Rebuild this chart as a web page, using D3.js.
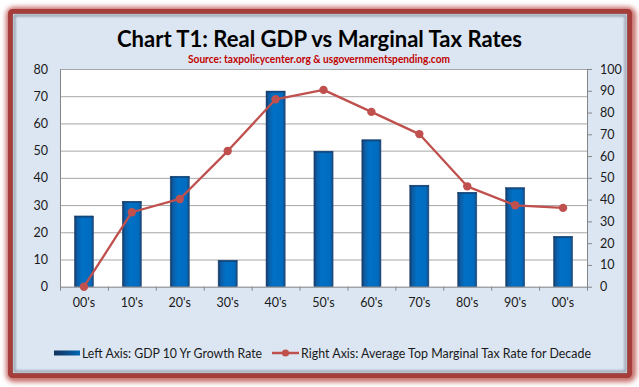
<!DOCTYPE html>
<html>
<head>
<meta charset="utf-8">
<script src="https://cdn.jsdelivr.net/npm/d3@7/dist/d3.min.js"></script>
<style>
  html, body { margin: 0; padding: 0; background: #ffffff; }
  svg { display: block; }
  text { font-family: Lato, "Open Sans", "DejaVu Sans", sans-serif; }
</style>
</head>
<body>
<svg id="chart" width="639" height="387"></svg>
<script>
// ---- Data ----
const categories = ["00's", "10's", "20's", "30's", "40's", "50's", "60's", "70's", "80's", "90's", "00's"];
const gdpGrowth = [26.0, 31.4, 40.6, 9.7, 71.9, 49.8, 54.0, 37.3, 34.7, 36.4, 18.5];
const topTaxRate = [0, 34.2, 40.3, 62.3, 86.1, 90.4, 80.3, 70.1, 46.1, 37.4, 36.2];
const leftTicks = [0, 10, 20, 30, 40, 50, 60, 70, 80];
const rightTicks = [0, 10, 20, 30, 40, 50, 60, 70, 80, 90, 100];
const titleText = "Chart T1: Real GDP vs Marginal Tax Rates";
const subtitleText = "Source: taxpolicycenter.org & usgovernmentspending.com";
const legendBarLabel = "Left Axis: GDP 10 Yr Growth Rate";
const legendLineLabel = "Right Axis: Average Top Marginal Tax Rate for Decade";

// ---- Layout ----
const svg = d3.select("#chart");
const plot = { left: 60, right: 587, top: 69, bottom: 286.7 };

const defs = svg.append("defs");
const glow = defs.append("filter").attr("id", "glow").attr("x", "-10%").attr("y", "-10%").attr("width", "120%").attr("height", "120%");
glow.append("feGaussianBlur").attr("stdDeviation", 2.5);
const inner = defs.append("filter").attr("id", "innerBlur");
inner.append("feGaussianBlur").attr("stdDeviation", 1);

const barGrad = defs.append("linearGradient").attr("id", "barGrad").attr("x1", "0").attr("x2", "1").attr("y1", "0").attr("y2", "0");
[[0, "#173760"], [0.15, "#0b5ea8"], [0.4, "#0071c5"], [0.85, "#006cc0"], [1, "#1f4473"]]
  .forEach(([o, c]) => barGrad.append("stop").attr("offset", o).attr("stop-color", c));
const legGrad = defs.append("linearGradient").attr("id", "legGrad").attr("x1", "0").attr("x2", "1").attr("y1", "0").attr("y2", "0");
[[0, "#13325c"], [0.6, "#0a4f90"], [1, "#0068b8"]]
  .forEach(([o, c]) => legGrad.append("stop").attr("offset", o).attr("stop-color", c));

// frame
svg.append("rect").attr("x", 10).attr("y", 11).attr("width", 622).attr("height", 367)
  .attr("rx", 4).attr("fill", "none").attr("stroke", "#c46a66").attr("stroke-width", 8)
  .attr("filter", "url(#glow)");
svg.append("rect").attr("x", 10.5).attr("y", 11.5).attr("width", 619).attr("height", 364)
  .attr("rx", 2).attr("fill", "#dce6f2").attr("stroke", "#a53d3a").attr("stroke-width", 5);
svg.append("rect").attr("x", 14.5).attr("y", 15.5).attr("width", 611).attr("height", 356)
  .attr("fill", "none").attr("stroke", "#8c95a3").attr("stroke-width", 2).attr("filter", "url(#innerBlur)");

// title
svg.append("text").attr("x", 117).attr("y", 46.7)
  .attr("textLength", 405).attr("lengthAdjust", "spacingAndGlyphs")
  .style("font-size", "23px").style("font-weight", "bold").attr("fill", "#000")
  .text(titleText);
svg.append("text").attr("x", 188).attr("y", 62.7)
  .attr("textLength", 262).attr("lengthAdjust", "spacingAndGlyphs")
  .style("font-size", "10.5px").style("font-weight", "bold").attr("fill", "#c00000")
  .text(subtitleText);

// plot background
svg.append("rect").attr("x", plot.left).attr("y", plot.top)
  .attr("width", plot.right - plot.left).attr("height", plot.bottom - plot.top).attr("fill", "#ffffff");

// scales
const idx = d3.range(categories.length);
const xBand = d3.scaleBand().domain(idx).range([plot.left, plot.right]).paddingInner(0.6).paddingOuter(0.3);
const xEdge = d3.scaleLinear().domain([0, categories.length]).range([plot.left, plot.right]);
const yL = d3.scaleLinear().domain([0, 80]).range([plot.bottom, plot.top]);
const yR = d3.scaleLinear().domain([0, 100]).range([plot.bottom, plot.top]);

// gridlines
svg.append("g").attr("class", "grid").attr("transform", `translate(${plot.left},0)`)
  .call(d3.axisLeft(yL).tickValues(leftTicks.filter(d => d > 0)).tickSize(-(plot.right - plot.left)).tickFormat(""))
  .call(g => g.select(".domain").remove())
  .call(g => g.selectAll("line").attr("stroke", "#a6a6a6").attr("stroke-width", 1));

// bars
svg.append("g").selectAll("rect").data(gdpGrowth).join("rect")
  .attr("x", (d, i) => xBand(i))
  .attr("width", xBand.bandwidth())
  .attr("y", d => yL(d))
  .attr("height", d => yL(0) - yL(d))
  .attr("fill", "url(#barGrad)")
  .attr("stroke", "#2a4d7a").attr("stroke-width", 0.5);
// bar top dark edge
svg.append("g").selectAll("rect").data(gdpGrowth).join("rect")
  .attr("x", (d, i) => xBand(i))
  .attr("width", xBand.bandwidth())
  .attr("y", d => yL(d))
  .attr("height", 1.6)
  .attr("fill", "#163a66").attr("opacity", 0.7);

// axes
const axisColor = "#868686";
const styleAxis = g => {
  g.select(".domain").attr("stroke", axisColor);
  g.selectAll(".tick line").attr("stroke", axisColor);
  g.selectAll("text").style("font-size", "12.5px").attr("fill", "#1a1a1a")
    .style("font-family", "Lato, 'Open Sans', sans-serif");
};
svg.append("g").attr("transform", `translate(${plot.left},0)`)
  .call(d3.axisLeft(yL).tickValues(leftTicks).tickSize(0).tickPadding(12).tickSizeOuter(0))
  .call(styleAxis);
svg.append("g").attr("transform", `translate(${plot.right},0)`)
  .call(d3.axisRight(yR).tickValues(rightTicks).tickSize(5).tickPadding(8).tickSizeOuter(0))
  .call(styleAxis);
svg.append("g").attr("transform", `translate(0,${plot.bottom})`)
  .call(d3.axisBottom(xEdge).tickValues(d3.range(categories.length + 1)).tickSize(4).tickSizeOuter(0).tickFormat(""))
  .call(styleAxis);
svg.append("g").attr("transform", `translate(0,${plot.bottom})`)
  .call(d3.axisBottom(xBand).tickSize(0).tickPadding(11).tickFormat(i => categories[i]))
  .call(g => g.select(".domain").remove())
  .call(styleAxis);

// line
const cx = i => xBand(i) + xBand.bandwidth() / 2;
const lineColor = "#c0504d";
svg.append("path").datum(topTaxRate)
  .attr("d", d3.line().x((d, i) => cx(i)).y(d => yR(d)))
  .attr("fill", "none").attr("stroke", lineColor).attr("stroke-width", 2.3).attr("stroke-linejoin", "round");
svg.append("g").selectAll("circle").data(topTaxRate).join("circle")
  .attr("cx", (d, i) => cx(i)).attr("cy", d => yR(d)).attr("r", 4.2).attr("fill", lineColor);

// legend
const leg = svg.append("g");
leg.append("rect").attr("x", 54).attr("y", 350.5).attr("width", 26).attr("height", 5).attr("fill", "url(#legGrad)");
leg.append("text").attr("x", 82).attr("y", 357.5)
  .attr("textLength", 180).attr("lengthAdjust", "spacingAndGlyphs")
  .style("font-size", "12.5px").attr("fill", "#1a1a1a").text(legendBarLabel);
leg.append("line").attr("x1", 272).attr("x2", 299).attr("y1", 353).attr("y2", 353)
  .attr("stroke", lineColor).attr("stroke-width", 2.5);
leg.append("circle").attr("cx", 285.5).attr("cy", 353).attr("r", 3.6).attr("fill", lineColor);
leg.append("text").attr("x", 301).attr("y", 357.5)
  .attr("textLength", 290).attr("lengthAdjust", "spacingAndGlyphs")
  .style("font-size", "12.5px").attr("fill", "#1a1a1a").text(legendLineLabel);
</script>
</body>
</html>
